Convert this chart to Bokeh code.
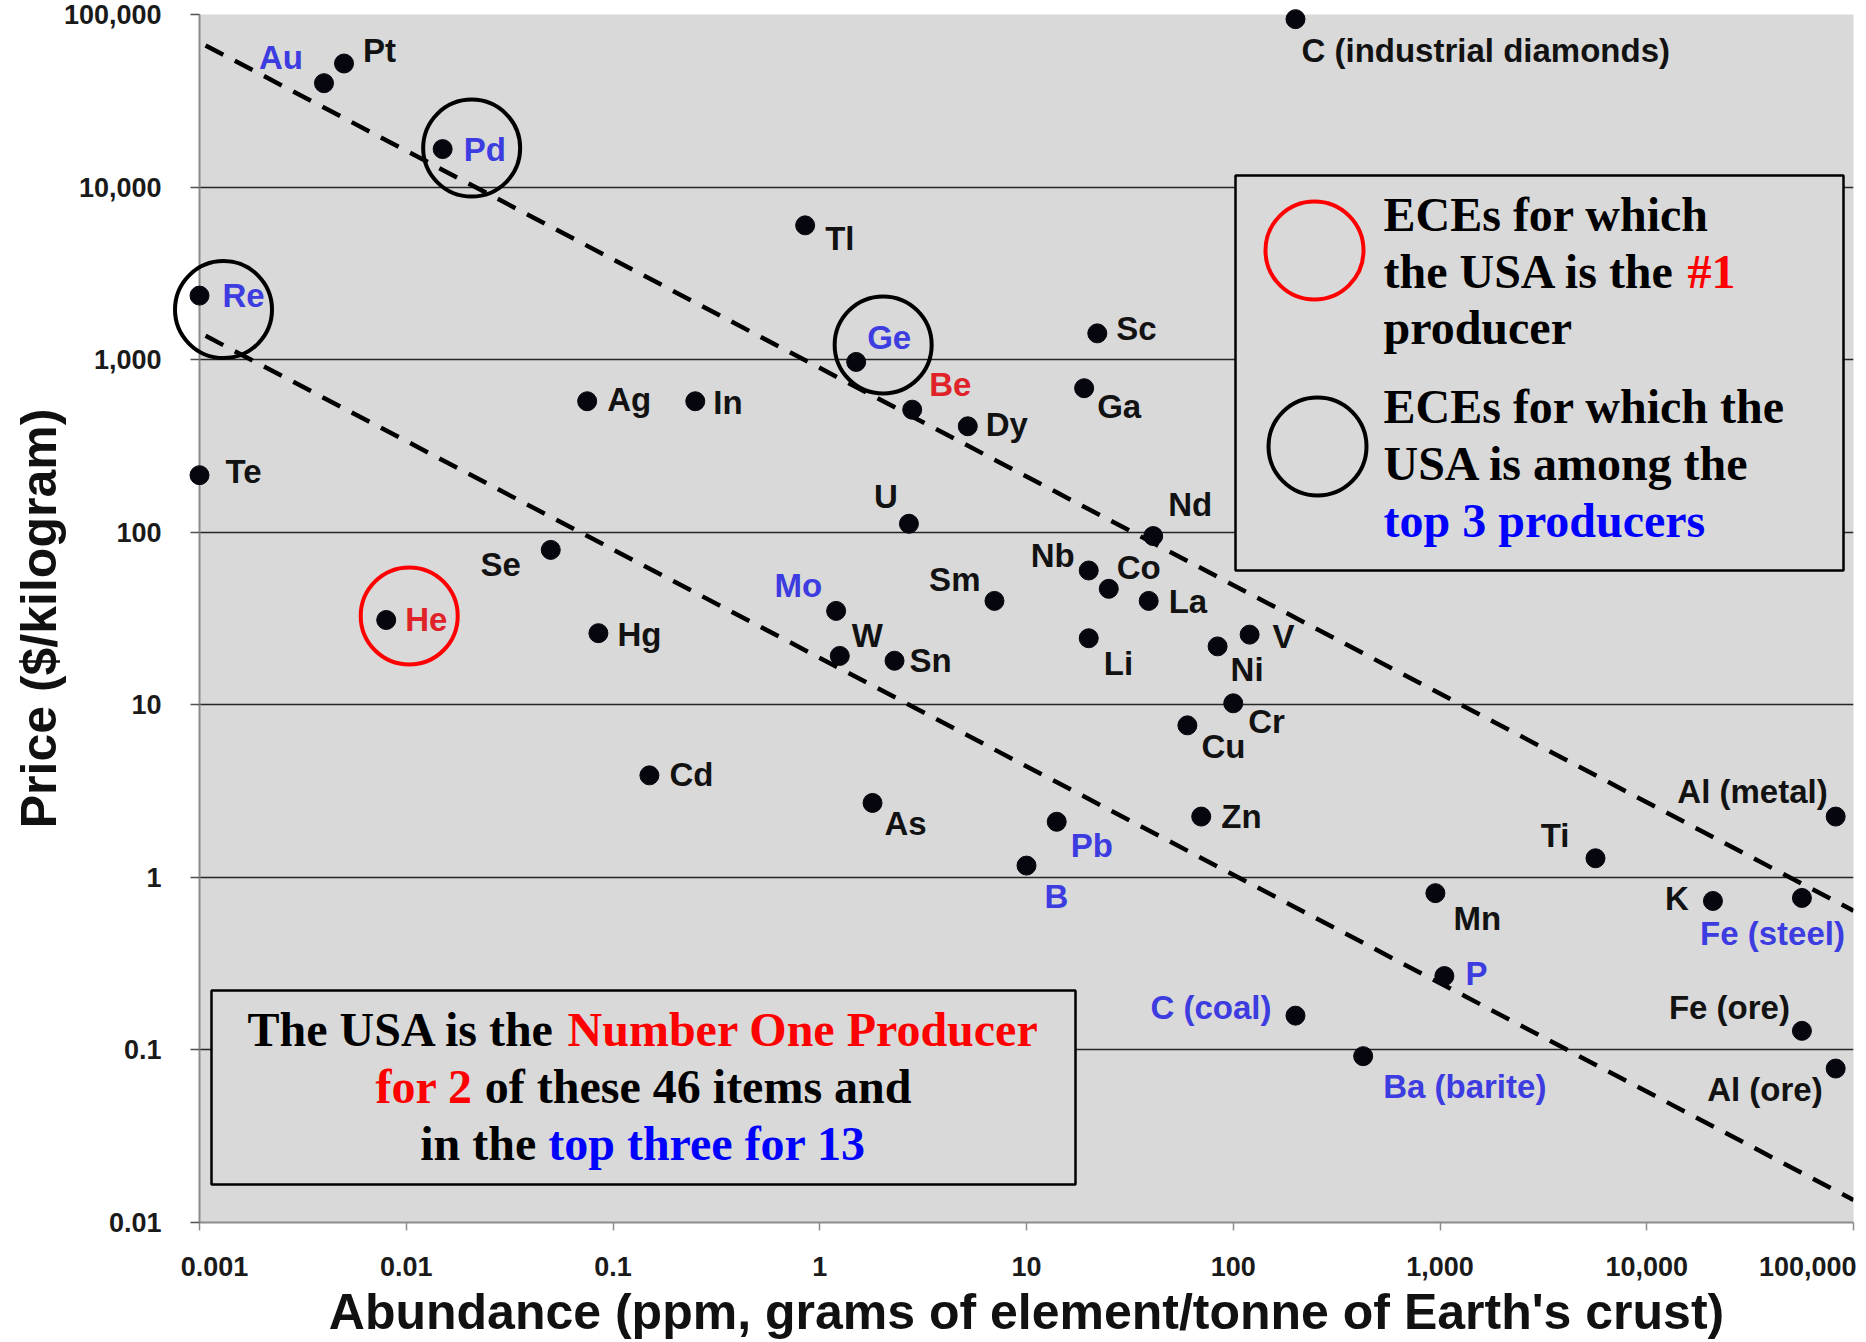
import math
from bokeh.plotting import figure
from bokeh.models import (ColumnDataSource, FixedTicker, NumeralTickFormatter,
                          CustomJSTickFormatter, Range1d)
from bokeh.core.properties import value
from bokeh.embed import file_html
from bokeh.resources import INLINE

# ---------------- data ----------------
elements = ["Au", "Pt", "Pd", "Re", "Tl", "Ge", "Be", "Dy", "Sc", "Ga", "Ag", "In", "Te",
            "U", "Nd", "Se", "Nb", "Co", "La", "Sm", "Mo", "He", "Hg", "V", "Li", "Ni",
            "W", "Sn", "Cr", "Cu", "Cd", "As", "Zn", "Pb", "Al (metal)", "Ti", "B", "Mn",
            "K", "Fe (steel)", "P", "C (coal)", "Fe (ore)", "Ba (barite)", "Al (ore)",
            "C (industrial diamonds)"]
abundance_ppm = [0.004, 0.005, 0.015, 0.001, 0.85, 1.5, 2.8, 5.2, 22, 19, 0.075, 0.25, 0.001,
                 2.7, 41, 0.05, 20, 25, 39, 7, 1.2, 0.008, 0.085, 120, 20, 84,
                 1.25, 2.3, 100, 60, 0.15, 1.8, 70, 14, 82000, 5650, 10, 950,
                 20900, 56300, 1050, 200, 56300, 425, 82000,
                 200]
price_usd_per_kg = [40000, 52000, 16600, 2350, 6000, 970, 513, 411, 1420, 683, 574, 574, 214,
                    112, 95, 79, 60, 47, 40, 40, 35, 31, 26, 25.5, 24.3, 21.8,
                    19.2, 18, 10.2, 7.6, 3.9, 2.7, 2.25, 2.1, 2.25, 1.29, 1.17, 0.81,
                    0.73, 0.76, 0.268, 0.158, 0.129, 0.092, 0.078,
                    94000]
# "first" = USA is #1 producer, "top3" = USA among top 3 producers
usa_rank = ["top3", "", "top3", "top3", "", "top3", "first", "", "", "", "", "", "",
            "", "", "", "", "", "", "", "top3", "first", "", "", "", "",
            "", "", "", "", "", "", "", "top3", "", "", "top3", "",
            "", "top3", "top3", "top3", "", "top3", "",
            ""]
circled = ["Pd", "Re", "Ge", "He"]

trend_abundance = [0.00107, 100000]
trend_upper_price = [66200, 0.64]
trend_lower_price = [1374, 0.0135]

x_ticks = [0.001, 0.01, 0.1, 1, 10, 100, 1000, 10000, 100000]
x_tick_labels = ["0.001", "0.01", "0.1", "1", "10", "100", "1,000", "10,000", "100,000"]
y_ticks = [0.01, 0.1, 1, 10, 100, 1000, 10000, 100000]

x_title = "Abundance (ppm, grams of element/tonne of Earth's crust)"
y_title = "Price ($/kilogram)"

# ---------------- layout (page pixels) ----------------
W, H = 1866, 1340
FL, FR, FT, FB = 199, 1853, 14, 1222
X0, X1 = 1e-3, 1e5
Y0, Y1 = 1e-2, 1e5
DXP = (FR - FL) / math.log10(X1 / X0)
DYP = (FB - FT) / math.log10(Y1 / Y0)
BASE_FIX = 18  # renderer draws "alphabetic" text this much lower than the requested baseline


def px_x(px):
    return 10 ** (math.log10(X0) + (px - FL) / DXP)


def px_y(py):
    return 10 ** (math.log10(Y1) - (py - FT) / DYP)


# label placement: (dx, dy, align) in screen px relative to the dot
label_layout = {
    "Au": (-21, -26, "right"), "Pt": (19, -13, "left"), "Pd": (21, 0, "left"),
    "Re": (23, 0, "left"), "Tl": (20, 13, "left"), "Ge": (11, -24, "left"),
    "Be": (17, -25, "left"), "Dy": (18, -2, "left"), "Sc": (19, -5, "left"),
    "Ga": (13, 18, "left"), "Ag": (20, -2, "left"), "In": (18, 1, "left"),
    "Te": (26, -4, "left"), "U": (-11, -27, "right"), "Nd": (15, -32, "left"),
    "Se": (-30, 15, "right"), "Nb": (-14, -15, "right"), "Co": (8, -21, "left"),
    "La": (20, 1, "left"), "Sm": (-14, -21, "right"), "Mo": (-14, -25, "right"),
    "He": (19, 0, "left"), "Hg": (19, 1, "left"), "V": (23, 2, "left"),
    "Li": (15, 25, "left"), "Ni": (13, 23, "left"), "W": (12, -20, "left"),
    "Sn": (15, 0, "left"), "Cr": (15, 18, "left"), "Cu": (14, 21, "left"),
    "Cd": (20, -1, "left"), "As": (12, 21, "left"), "Zn": (20, 0, "left"),
    "Pb": (14, 24, "left"), "Al (metal)": (-8, -25, "right"), "Ti": (-26, -23, "right"),
    "B": (18, 31, "left"), "Mn": (18, 25, "left"), "K": (-24, -2, "right"),
    "Fe (steel)": (43, 36, "right"), "P": (21, -3, "left"), "C (coal)": (-24, -8, "right"),
    "Fe (ore)": (-12, -23, "right"), "Ba (barite)": (20, 30, "left"),
    "Al (ore)": (-13, 21, "right"), "C (industrial diamonds)": (6, 31, "left"),
}
circle_offset = {"Pd": (29, -1), "Re": (24, 14), "Ge": (27, -17), "He": (23, -4)}

rank_color = {"first": "#e02328", "top3": "#3c3ce0", "": "#121212"}

p = figure(width=W, height=H, x_axis_type="log", y_axis_type="log",
           x_range=Range1d(X0, X1), y_range=Range1d(Y0, Y1),
           output_backend="svg", toolbar_location=None,
           min_border_left=FL, min_border_right=W - FR, min_border_top=FT,
           min_border_bottom=H - FB)
p.background_fill_color = "#d9d9d9"
p.border_fill_color = "white"
p.outline_line_color = None
p.xgrid.visible = False
p.ygrid.ticker = FixedTicker(ticks=y_ticks[1:])
p.ygrid.grid_line_color = "#262626"
p.ygrid.grid_line_width = 1.5

p.yaxis.ticker = FixedTicker(ticks=y_ticks, minor_ticks=[])
p.yaxis.formatter = NumeralTickFormatter(format="0,0.[00]")
p.yaxis.axis_line_color = "#8c8c8c"
p.yaxis.axis_line_width = 2
p.yaxis.major_tick_out = 9
p.yaxis.major_tick_in = 0
p.yaxis.major_tick_line_color = "#505050"
p.yaxis.major_tick_line_width = 1.5
p.yaxis.minor_tick_line_color = None
p.yaxis.major_label_text_font = "Liberation Sans"
p.yaxis.major_label_text_font_style = "bold"
p.yaxis.major_label_text_font_size = "27px"
p.yaxis.major_label_text_color = "#1a1a1a"
p.yaxis.major_label_standoff = 29

p.xaxis.ticker = FixedTicker(ticks=x_ticks, minor_ticks=[])
p.xaxis.formatter = CustomJSTickFormatter(code="return ''")
p.xaxis.axis_line_color = "#8c8c8c"
p.xaxis.axis_line_width = 2
p.xaxis.major_tick_out = 8
p.xaxis.major_tick_in = 0
p.xaxis.major_tick_line_color = "#8c8c8c"
p.xaxis.major_tick_line_width = 1.5
p.xaxis.minor_tick_line_color = None

# ---------- boxes ----------
box_fill = "#d9d9d9"
p.quad(left=[px_x(1235), px_x(211)], right=[px_x(1843), px_x(1075)],
       top=[px_y(175), px_y(990)], bottom=[px_y(570), px_y(1184)],
       fill_color=box_fill, line_color="black", line_width=2.5)

# ---------- trend lines ----------
p.line(trend_abundance, trend_upper_price, line_color="black", line_width=4.5, line_dash="20 13")
p.line(trend_abundance, trend_lower_price, line_color="black", line_width=4.5, line_dash="20 13")

# ---------- point labels ----------
for align in ("left", "right"):
    d = dict(x=[], y=[], t=[], dx=[], dy=[], c=[])
    for e, a, pr, r in zip(elements, abundance_ppm, price_usd_per_kg, usa_rank):
        ox, oy, al = label_layout[e]
        if al != align:
            continue
        d["x"].append(a); d["y"].append(pr); d["t"].append(e)
        d["dx"].append(ox); d["dy"].append(oy); d["c"].append(rank_color[r])
    p.text(x="x", y="y", text="t", x_offset="dx", y_offset="dy", text_color="c",
           source=ColumnDataSource(d), text_align=align, text_baseline="middle",
           text_font=value("Liberation Sans"), text_font_style="bold", text_font_size="33px")

# ---------- dots ----------
p.scatter(abundance_ppm, price_usd_per_kg, size=19, marker="circle",
          fill_color="#06060f", line_color="#06060f", level="overlay")

# ---------- highlight circles ----------
cx, cy, cc = [], [], []
for e in circled:
    i = elements.index(e)
    ox, oy = circle_offset[e]
    cx.append(abundance_ppm[i] * 10 ** (ox / DXP))
    cy.append(price_usd_per_kg[i] * 10 ** (-oy / DYP))
    cc.append("#ff0000" if usa_rank[i] == "first" else "black")
p.scatter(cx, cy, size=97, marker="circle", fill_color=None, line_color=cc,
          line_width=4, level="overlay")

# legend circles
p.scatter([px_x(1314), px_x(1317)], [px_y(250), px_y(446)], size=98, marker="circle",
          fill_color=None, line_color=["#ff0000", "black"], line_width=4, level="overlay")

# ---------- rich text in boxes ----------
TB = {' ': 250, '#': 500, '1': 500, '2': 500, '3': 500, '4': 500, '6': 500,
      'A': 722, 'C': 722, 'E': 667, 'N': 722, 'O': 778, 'P': 611, 'S': 556, 'T': 667,
      'U': 722, 'a': 500, 'b': 556, 'c': 444, 'd': 556, 'e': 444, 'f': 333, 'g': 500,
      'h': 556, 'i': 278, 'm': 833, 'n': 556, 'o': 500, 'p': 556, 'r': 444, 's': 389,
      't': 333, 'u': 556, 'w': 722}
FS = 48


def tw(s):
    return sum(TB.get(ch, 500) for ch in s) / 1000 * FS


RED, BLUE, BLK = "#ff0000", "#0000ff", "black"
box_lines = [
    [("The USA is the", BLK), ("Number One Producer", RED)],
    [("for 2", RED), ("of these 46 items and", BLK)],
    [("in the", BLK), ("top three for 13", BLUE)],
]
legend_lines = [
    [("ECEs for which", BLK)],
    [("the USA is the", BLK), ("#1", RED)],
    [("producer", BLK)],
    [("ECEs for which the", BLK)],
    [("USA is among the", BLK)],
    [("top 3 producers", BLUE)],
]
rt = dict(x=[], y=[], t=[], c=[])


def place(segs, left_px, base_px):
    xpos = left_px
    for k, (s, col) in enumerate(segs):
        if k > 0:
            xpos += tw(" ")
        rt["x"].append(px_x(xpos)); rt["y"].append(px_y(base_px - BASE_FIX))
        rt["t"].append(s); rt["c"].append(col)
        xpos += tw(s)


for line, base in zip(box_lines, [1047, 1104, 1161]):
    total = sum(tw(s) for s, _ in line) + tw(" ") * (len(line) - 1)
    place(line, 643 - total / 2, base)
for line, base in zip(legend_lines, [232, 289, 345, 424, 481, 538]):
    place(line, 1383, base)

p.text(x="x", y="y", text="t", text_color="c", source=ColumnDataSource(rt),
       text_align="left", text_baseline="alphabetic",
       text_font=value("Liberation Serif"), text_font_style="bold", text_font_size=f"{FS}px")

# ---------- x tick labels & axis titles (outside the frame, unclipped overlay) ----------
tick_src = dict(x=[], y=[], t=[], dx=[])
last_src = dict(x=[], y=[], t=[], dx=[])
for k, (tv, tl) in enumerate(zip(x_ticks, x_tick_labels)):
    tgt = last_src if k == len(x_ticks) - 1 else tick_src
    tgt["x"].append(tv); tgt["y"].append(px_y(1266)); tgt["t"].append(tl)
    tgt["dx"].append(15 if k == 0 else (3 if k == len(x_ticks) - 1 else 0))
p.text(x="x", y="y", text="t", x_offset="dx", source=ColumnDataSource(tick_src),
       text_align="center", text_baseline="middle", text_font=value("Liberation Sans"),
       text_font_style="bold", text_font_size="27px", text_color="#1a1a1a", level="overlay")
p.text(x="x", y="y", text="t", x_offset="dx", source=ColumnDataSource(last_src),
       text_align="right", text_baseline="middle", text_font=value("Liberation Sans"),
       text_font_style="bold", text_font_size="27px", text_color="#1a1a1a", level="overlay")

p.text(x=[px_x((FL + FR) / 2)], y=[px_y(1329 - BASE_FIX)], text=[x_title], text_align="center",
       text_baseline="alphabetic", text_font=value("Liberation Sans"),
       text_font_style="bold", text_font_size="50px", text_color="#111111", level="overlay")
p.text(x=[px_x(38)], y=[px_y((FT + FB) / 2)], text=[y_title], angle=math.pi / 2,
       text_align="center", text_baseline="middle", text_font=value("Liberation Sans"),
       text_font_style="bold", text_font_size="50px", text_color="#111111", level="overlay")

open("out.html", "w").write(file_html(p, INLINE))
